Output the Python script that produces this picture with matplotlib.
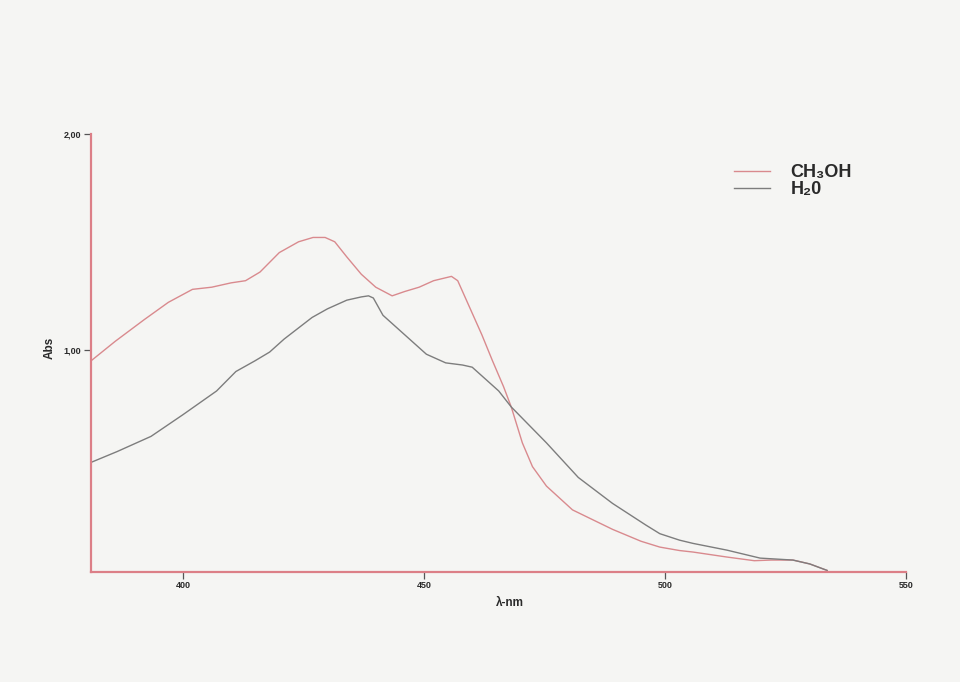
import matplotlib
matplotlib.use("Agg")
import matplotlib.pyplot as plt

# ---- data ----
ch3oh_wl = [381, 386, 392, 397, 402, 406, 410, 413, 416, 420, 424, 427, 429.5, 431.5, 434,
            437, 440, 443.4, 446, 449, 452, 455.7, 457, 459, 462, 464.2, 466.5, 468.1, 470.4, 472.5,
            475.4, 480.8, 489.1, 495, 498.9, 503, 505.8, 512.8, 518.5, 522, 526.5, 530, 533.6]
ch3oh_abs = [0.95, 1.04, 1.14, 1.22, 1.28, 1.29, 1.31, 1.32, 1.36, 1.45, 1.50, 1.52, 1.52, 1.50, 1.43,
             1.35, 1.29, 1.25, 1.27, 1.29, 1.32, 1.34, 1.32, 1.22, 1.07, 0.95, 0.83, 0.736, 0.57, 0.46,
             0.37, 0.26, 0.17, 0.115, 0.088, 0.072, 0.065, 0.042, 0.025, 0.028, 0.028, 0.01, -0.02]

h2o_wl = [381, 386.4, 393.4, 400, 407, 411, 415, 418, 421, 426.8, 430, 434, 437, 438.5, 439.5,
          441.5, 445, 450.5, 454.5, 458, 460, 461.5, 465.5, 468.1, 475.4, 482, 489.1, 496,
          498.9, 503, 505.8, 512.8, 519.7, 526.5, 530, 533.6]
h2o_abs = [0.48, 0.53, 0.60, 0.70, 0.81, 0.90, 0.95, 0.99, 1.05, 1.15, 1.19, 1.23, 1.245, 1.25, 1.24,
           1.16, 1.09, 0.98, 0.94, 0.93, 0.92, 0.89, 0.81, 0.736, 0.57, 0.41, 0.29, 0.19,
           0.15, 0.12, 0.105, 0.074, 0.037, 0.028, 0.01, -0.02]

series_labels = ["CH\u2083OH", "H\u20820"]
x_ticks = [400, 450, 500, 550]
x_tick_labels = ["400", "450", "500", "550"]
y_ticks = [1.0, 2.0]
y_tick_labels = ["1,00", "2,00"]

BG = "#f5f5f3"
RED = "#d98a8e"
AXRED = "#dc7f87"
GRAY = "#7d7d7d"
TXT = "#2a2a2a"
FAM = ["Liberation Sans", "DejaVu Sans"]

fig = plt.figure(figsize=(9.6, 6.82), dpi=100, facecolor=BG)
ax = fig.add_axes([0.095, 0.162, 0.849, 0.642])
ax.set_facecolor(BG)

l1, = ax.plot(ch3oh_wl, ch3oh_abs, color=RED, lw=1.0, label=series_labels[0])
l2, = ax.plot(h2o_wl, h2o_abs, color=GRAY, lw=1.0, label=series_labels[1])

ax.set_xlim(381, 550)
ax.set_ylim(-0.025, 2.0)

for s in ["top", "right"]:
    ax.spines[s].set_visible(False)
for s in ["left", "bottom"]:
    ax.spines[s].set_color(AXRED)
    ax.spines[s].set_linewidth(1.6)

ax.set_xticks(x_ticks)
ax.set_xticklabels(x_tick_labels, fontsize=6.5, fontweight="bold", color=TXT, family=FAM)
ax.set_yticks(y_ticks)
ax.set_yticklabels(y_tick_labels, fontsize=6.5, fontweight="bold", color=TXT, family=FAM)
ax.tick_params(direction="out", length=5, width=0.9, color="#555555", pad=2)

ax.set_xlabel("\u03bb-nm", fontsize=8.5, fontweight="bold", color=TXT, family=FAM)
ax.xaxis.set_label_coords(0.514, -0.058)
ax.set_ylabel("Abs", fontsize=8.5, fontweight="bold", color=TXT, family=FAM)
ax.yaxis.set_label_coords(-0.044, 0.51)

leg = ax.legend(handles=[l1, l2], loc="upper left", bbox_to_anchor=(0.748, 0.783),
                bbox_transform=fig.transFigure, frameon=False, handlelength=2.0,
                handletextpad=1.1, labelspacing=0.0,
                prop={"family": FAM, "weight": "bold", "size": 13})
for t in leg.get_texts():
    t.set_color(TXT)

fig.savefig("out.png", dpi=100, facecolor=BG)
